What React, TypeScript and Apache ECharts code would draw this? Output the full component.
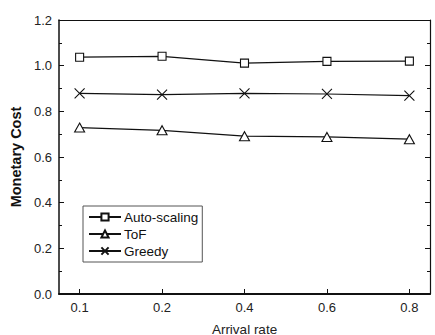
import React, { useEffect, useRef } from "react";
import * as echarts from "echarts";

const categories = ["0.1", "0.2", "0.4", "0.6", "0.8"];
const autoScaling = [1.037, 1.041, 1.011, 1.019, 1.02];
const tof = [0.729, 0.717, 0.691, 0.688, 0.678];
const greedy = [0.879, 0.873, 0.879, 0.876, 0.869];
const seriesNames = ["Auto-scaling", "ToF", "Greedy"];

const FONT = "Liberation Sans, Arial, sans-serif";
const idx = categories.map((_, i) => i);

export default function App() {
  const ref = useRef<HTMLDivElement>(null);
  useEffect(() => {
    if (!ref.current) return;
    const chart = echarts.init(ref.current, null, { renderer: "svg" });
    const mk = (vals: number[]) => vals.map((v, i) => [i, v]);
    const common = {
      type: "line",
      lineStyle: { color: "#111", width: 1.2 },
      itemStyle: { color: "#fff", borderColor: "#111", borderWidth: 1.1 },
      emphasis: { disabled: true },
    };
    chart.setOption({
      animation: false,
      grid: { left: 59, right: 5, top: 20, bottom: 41, outerBoundsMode: "none", containLabel: false },
      legend: {
        orient: "vertical",
        left: 83,
        top: 206,
        padding: [4, 4, 4, 5],
        itemGap: 3,
        itemWidth: 32,
        itemHeight: 9,
        borderColor: "#555",
        borderWidth: 1,
        textStyle: { fontFamily: FONT, fontSize: 13.5, color: "#111", lineHeight: 13, padding: [0, 0, 0, -2] },
        data: seriesNames,
      },
      xAxis: [
        {
          type: "value",
          min: -0.25,
          max: 4.25,
          position: "bottom",
          axisLine: { onZero: false, lineStyle: { color: "#111", width: 2 } },
          axisTick: { inside: true, length: 5, customValues: idx, lineStyle: { color: "#111" } },
          axisLabel: {
            customValues: idx,
            formatter: (v: number) => categories[Math.round(v)] ?? "",
            fontFamily: FONT,
            fontSize: 13,
            color: "#222",
            margin: 7,
          },
          splitLine: { show: false },
          name: "Arrival rate",
          nameLocation: "middle",
          nameGap: 28,
          nameTextStyle: { fontFamily: FONT, fontSize: 13.5, color: "#222" },
        },
        {
          type: "value",
          min: -0.25,
          max: 4.25,
          position: "top",
          axisLine: { onZero: false, lineStyle: { color: "#111", width: 1.2 } },
          axisTick: { show: false },
          axisLabel: { show: false },
          splitLine: { show: false },
        },
      ],
      yAxis: [
        {
          type: "value",
          min: 0,
          max: 1.2,
          interval: 0.2,
          position: "left",
          axisLine: { show: true, onZero: false, lineStyle: { color: "#111", width: 1.5 } },
          axisTick: { show: true, inside: true, length: 5, lineStyle: { color: "#111" } },
          minorTick: { show: true, splitNumber: 2, length: 3, lineStyle: { color: "#111" } },
          axisLabel: {
            formatter: (v: number) => v.toFixed(1),
            fontFamily: FONT,
            fontSize: 13,
            color: "#222",
            margin: 7,
          },
          splitLine: { show: false },
          name: "Monetary Cost",
          nameLocation: "middle",
          nameGap: 30,
          nameTextStyle: { fontFamily: FONT, fontSize: 14.5, fontWeight: "bold", color: "#111" },
        },
        {
          type: "value",
          min: 0,
          max: 1.2,
          interval: 0.2,
          position: "right",
          axisLine: { show: true, onZero: false, lineStyle: { color: "#111", width: 1.2 } },
          axisTick: { show: true, inside: true, length: 5, lineStyle: { color: "#111" } },
          minorTick: { show: true, splitNumber: 2, length: 3, lineStyle: { color: "#111" } },
          axisLabel: { show: false },
          splitLine: { show: false },
        },
      ],
      series: [
        { ...common, name: seriesNames[0], data: mk(autoScaling), symbol: "rect", symbolSize: 8 },
        { ...common, name: seriesNames[1], data: mk(tof), symbol: "triangle", symbolSize: [10, 9] },
        {
          ...common,
          name: seriesNames[2],
          data: mk(greedy),
          symbol: "path://M0,0L10,10M10,0L0,10",
          symbolSize: 10,
        },
      ],
    });
    return () => chart.dispose();
  }, []);
  return (
    <div
      ref={ref}
      style={{ position: "fixed", left: 0, top: 0, width: 435, height: 335, background: "#fff" }}
    />
  );
}
